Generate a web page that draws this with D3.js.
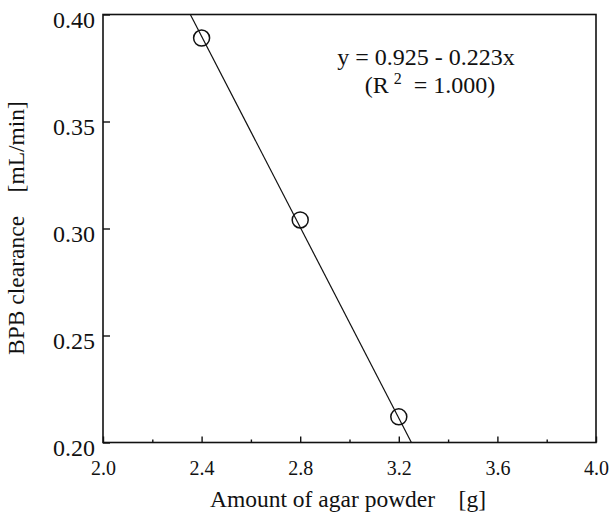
<!DOCTYPE html>
<html><head><meta charset="utf-8">
<script src="https://cdn.jsdelivr.net/npm/d3@7"></script>
<style>body{margin:0;background:#fff}svg{display:block}text{font-family:"Liberation Serif","Times New Roman",serif !important;fill:#111}</style>
</head><body>
<script>
const xValues = [2.4, 2.8, 3.2];
const yValues = [0.389, 0.304, 0.212];
const xTicks = [2.0, 2.4, 2.8, 3.2, 3.6, 4.0];
const xMinorTicks = [2.2, 2.6, 3.0, 3.4, 3.8];
const yTicks = [0.20, 0.25, 0.30, 0.35, 0.40];
const fitIntercept = 0.925, fitSlope = -0.223;
const eqLines = ["y = 0.925 - 0.223x"];

const W = 615, H = 516;
const m = {l: 103, r: 596, t: 14.5, b: 442.5};
const serif = '"Liberation Serif","Times New Roman",serif';
const svg = d3.select("body").append("svg").attr("width", W).attr("height", H);
const x = d3.scaleLinear().domain([2.0, 4.0]).range([m.l, m.r]);
const y = d3.scaleLinear().domain([0.20, 0.40]).range([m.b, m.t]);

// frame
svg.append("rect").attr("x", m.l).attr("y", m.t).attr("width", m.r - m.l).attr("height", m.b - m.t)
  .attr("fill", "none").attr("stroke", "#111").attr("stroke-width", 1.6);

// x axis
const xAxis = d3.axisBottom(x).tickValues(xTicks).tickSize(-6).tickPadding(18).tickFormat(d3.format(".1f"));
const gx = svg.append("g").attr("transform", `translate(0,${m.b})`).call(xAxis).attr("font-family", serif);
gx.select(".domain").remove();
gx.selectAll(".tick line").attr("stroke", "#111").attr("stroke-width", 1.4);
gx.selectAll(".tick text").style("font-size", "20px").style("font-family", serif).attr("fill", "#111");
const gxm = svg.append("g").attr("transform", `translate(0,${m.b})`)
  .call(d3.axisBottom(x).tickValues(xMinorTicks).tickSize(-3).tickFormat(""));
gxm.select(".domain").remove();
gxm.selectAll(".tick line").attr("stroke", "#111").attr("stroke-width", 1.4);

// y axis
const yAxis = d3.axisLeft(y).tickValues(yTicks).tickSize(-7).tickPadding(8).tickFormat(d3.format(".2f"));
const gy = svg.append("g").attr("transform", `translate(${m.l},0)`).call(yAxis).attr("font-family", serif);
gy.select(".domain").remove();
gy.selectAll(".tick line").attr("stroke", "#111").attr("stroke-width", 1.4);
gy.selectAll(".tick text").style("font-size", "24px").style("font-family", serif).attr("fill", "#111").attr("dy", "0.55em");

// fit line clipped to plot
const xTop = (0.40 - fitIntercept) / fitSlope, xBot = (0.20 - fitIntercept) / fitSlope;
const fitPts = [xTop, xBot].map(v => [v, fitIntercept + fitSlope * v]);
svg.append("path").datum(fitPts)
  .attr("d", d3.line().x(d => x(d[0])).y(d => y(d[1])))
  .attr("fill", "none").attr("stroke", "#111").attr("stroke-width", 1.2);

// points
svg.selectAll("circle.pt").data(xValues.map((v, i) => [v, yValues[i]])).join("circle")
  .attr("class", "pt").attr("cx", d => x(d[0])).attr("cy", d => y(d[1])).attr("r", 8)
  .attr("fill", "none").attr("stroke", "#111").attr("stroke-width", 1.5);

// equation
svg.append("text").attr("x", 426).attr("y", 65).attr("text-anchor", "middle").style("font-size", "24px").text(eqLines[0]);
const t2 = svg.append("text").attr("x", 430).attr("y", 93).attr("text-anchor", "middle").style("font-size", "24px").style("white-space", "pre");
t2.append("tspan").text("(R");
t2.append("tspan").style("font-size", "16px").attr("dy", -9).attr("dx", 5).text("2");
t2.append("tspan").attr("dy", 9).text("  = 1.000)");

// axis titles
svg.append("text").attr("x", 348).attr("y", 507).attr("text-anchor", "middle").style("font-size", "23.5px")
  .style("white-space", "pre").text("Amount of agar powder    [g]");
svg.append("text").attr("transform", "translate(24,228) rotate(-90)").attr("text-anchor", "middle").style("font-size", "23.5px")
  .style("white-space", "pre").text("BPB clearance    [mL/min]");
</script>
</body></html>
